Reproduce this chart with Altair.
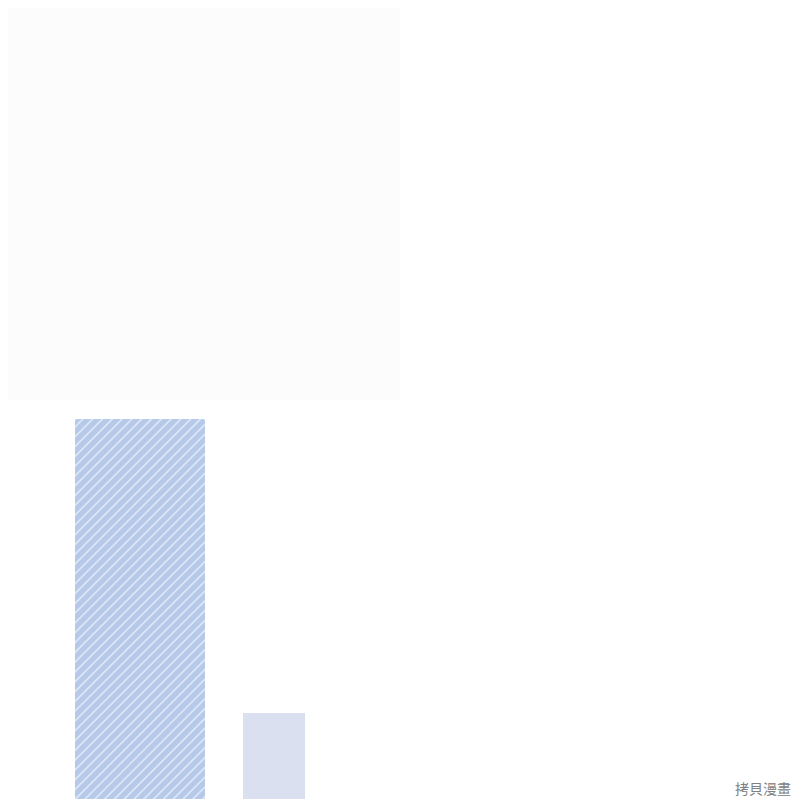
import altair as alt
import pandas as pd

# Bars (x in page pixels, y as height above the image bottom)
bar_names = ["hatched", "plain"]
bar_x0 = [75, 243]
bar_x1 = [205, 305]
bar_y0 = [7, -5]
bar_y1 = [388, 94]

# faint panel in the top-left quarter
panel_x0 = [8]
panel_x1 = [400]
panel_y0 = [407]
panel_y1 = [799]

mark_text = ["拷貝漫畫"]
mark_x = [763]
mark_y = [17]

W = 784
H = 791

bars = pd.DataFrame({"name": bar_names, "x0": bar_x0, "x1": bar_x1, "y0": bar_y0, "y1": bar_y1})
panel = pd.DataFrame({"x0": panel_x0, "x1": panel_x1, "y0": panel_y0, "y1": panel_y1})
wm = pd.DataFrame({"t": mark_text, "x": mark_x, "y": mark_y})

xs = alt.Scale(domain=[8, 792], nice=False, zero=False)
ys = alt.Scale(domain=[8, 799], nice=False, zero=False)

# diagonal stripe gradient for the hatched bar (style)
bw, bh = 130.0, 381.0
c = (bw + bh) / (bw * bw + bh * bh)
period = 9.8
n = (bw + bh) / period
base = "#b6c9e9"
soft = "#c7d6ef"
stripe = "#dae5f7"
stops = []
k = 0
while k < n:
    o = lambda f: min((k + f) / n, 1)
    stops.append(alt.GradientStop(offset=o(0.0), color=base))
    stops.append(alt.GradientStop(offset=o(0.62), color=base))
    stops.append(alt.GradientStop(offset=o(0.68), color=soft))
    stops.append(alt.GradientStop(offset=o(0.74), color=stripe))
    stops.append(alt.GradientStop(offset=o(0.88), color=stripe))
    stops.append(alt.GradientStop(offset=o(0.94), color=soft))
    stops.append(alt.GradientStop(offset=o(1.0), color=base))
    k += 1
grad = alt.LinearGradient(gradient="linear", stops=stops, x1=0, y1=0, x2=c * bw, y2=c * bh)

panel_layer = alt.Chart(panel).mark_rect(color="#fcfcfc", clip=True).encode(
    x=alt.X("x0:Q", scale=xs, axis=None), x2="x1:Q",
    y=alt.Y("y0:Q", scale=ys, axis=None), y2="y1:Q",
)

bar1 = alt.Chart(bars).transform_filter(alt.datum.name == "hatched").mark_bar(
    color=grad, cornerRadius=2, clip=True
).encode(
    x=alt.X("x0:Q", scale=xs, axis=None), x2="x1:Q",
    y=alt.Y("y0:Q", scale=ys, axis=None), y2="y1:Q",
)

bar2 = alt.Chart(bars).transform_filter(alt.datum.name == "plain").mark_bar(
    color="#dae0ef", clip=True
).encode(
    x=alt.X("x0:Q", scale=xs, axis=None), x2="x1:Q",
    y=alt.Y("y0:Q", scale=ys, axis=None), y2="y1:Q",
)

text = alt.Chart(wm).mark_text(
    font="Noto Sans CJK TC", fontSize=14, color="#808080", align="center", baseline="middle"
).encode(
    x=alt.X("x:Q", scale=xs, axis=None),
    y=alt.Y("y:Q", scale=ys, axis=None),
    text="t:N",
)

chart = alt.layer(panel_layer, bar1, bar2, text).properties(
    width=W, height=H, padding=0, autosize="none", background="#ffffff"
).configure_view(stroke=None)

chart.save("out.html", embed_options={"renderer": "svg", "actions": False})
